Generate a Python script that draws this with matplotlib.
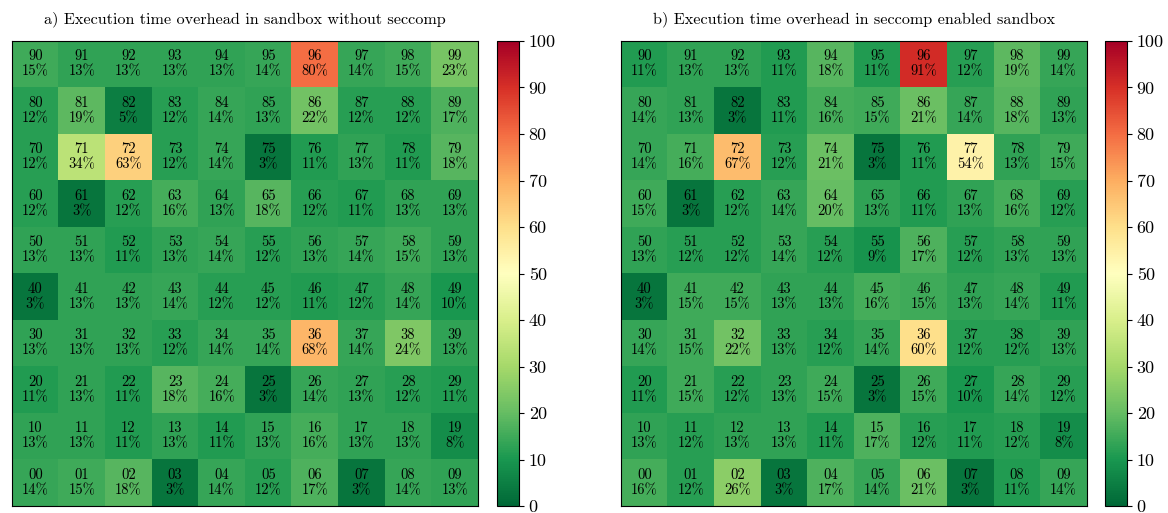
import numpy as np
import matplotlib
matplotlib.use("Agg")
from matplotlib import pyplot as plt

plt.rcParams['font.family'] = 'serif'
plt.rcParams['font.serif'] = ['cmr10']
plt.rcParams['mathtext.fontset'] = 'cm'
plt.rcParams['axes.unicode_minus'] = False

# Row ids from top to bottom, column ids left to right
row_ids = [9, 8, 7, 6, 5, 4, 3, 2, 1, 0]
col_ids = [0, 1, 2, 3, 4, 5, 6, 7, 8, 9]

# Overhead in percent, sandbox without seccomp
overhead_a = [
    [15, 13, 13, 13, 13, 14, 80, 14, 15, 23],
    [12, 19, 5, 12, 14, 13, 22, 12, 12, 17],
    [12, 34, 63, 12, 14, 3, 11, 13, 11, 18],
    [12, 3, 12, 16, 13, 18, 12, 11, 13, 13],
    [13, 13, 11, 13, 14, 12, 13, 14, 15, 13],
    [3, 13, 13, 14, 12, 12, 11, 12, 14, 10],
    [13, 13, 13, 12, 14, 14, 68, 14, 24, 13],
    [11, 13, 11, 18, 16, 3, 14, 13, 12, 11],
    [13, 13, 11, 13, 11, 13, 16, 13, 13, 8],
    [14, 15, 18, 3, 14, 12, 17, 3, 14, 13],
]

# Overhead in percent, seccomp enabled sandbox
overhead_b = [
    [11, 13, 13, 11, 18, 11, 91, 12, 19, 14],
    [14, 13, 3, 11, 16, 15, 21, 14, 18, 13],
    [14, 16, 67, 12, 21, 3, 11, 54, 13, 15],
    [15, 3, 12, 14, 20, 13, 11, 13, 16, 12],
    [13, 12, 12, 14, 12, 9, 17, 12, 13, 13],
    [3, 15, 15, 13, 13, 16, 15, 13, 14, 11],
    [14, 15, 22, 13, 12, 14, 60, 12, 12, 13],
    [11, 15, 12, 13, 15, 3, 15, 10, 14, 12],
    [13, 12, 13, 13, 11, 17, 12, 11, 12, 8],
    [16, 12, 26, 3, 17, 14, 21, 3, 11, 14],
]

titles = ['a) Execution time overhead in sandbox without seccomp',
          'b) Execution time overhead in seccomp enabled sandbox']
cbar_ticks = [0, 10, 20, 30, 40, 50, 60, 70, 80, 90, 100]

W, H = 1168, 513
fig = plt.figure(figsize=(W / 100, H / 100), dpi=100)

panels = [(overhead_a, titles[0], 12, 497), (overhead_b, titles[1], 621, 1105)]
for data, title, x0, cx0 in panels:
    ax = fig.add_axes([x0 / W, 7 / H, 466 / W, 465 / H])
    cax = fig.add_axes([cx0 / W, 7 / H, 22 / W, 465 / H])
    im = ax.imshow(np.array(data), cmap='RdYlGn_r', vmin=0, vmax=100, aspect='auto')
    for i, r in enumerate(row_ids):
        for j, c in enumerate(col_ids):
            ax.text(j, i, f"{r}{c}\n{data[i][j]}%", ha='center', va='center',
                    fontsize=10.5, linespacing=1.15)
    ax.set_xticks([])
    ax.set_yticks([])
    ax.set_title(title, fontsize=11.7, pad=13)
    cb = fig.colorbar(im, cax=cax, ticks=cbar_ticks)
    cb.ax.tick_params(labelsize=13)

fig.savefig('out.png', dpi=100)
